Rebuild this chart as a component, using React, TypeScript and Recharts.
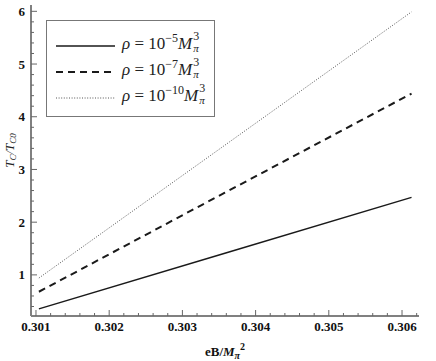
import React from "react";
import { LineChart, Line, XAxis, YAxis, Legend } from "recharts";

// ---- data ----
const eB = [0.30104, 0.30358, 0.30613];
const rho5 = [0.355, 1.41, 2.47];
const rho7 = [0.68, 2.56, 4.44];
const rho10 = [0.94, 3.46, 5.99];

const xMajorTicks = [0.301, 0.302, 0.303, 0.304, 0.305, 0.306];
const yMajorTicks = [1, 2, 3, 4, 5, 6];
const xDomain: [number, number] = [0.300932, 0.306232];
const yDomain: [number, number] = [0.22, 6.12];

const seriesNames = ["-5", "-7", "-10"];

// minor ticks: 4 between each major tick
const xTicks: number[] = [];
for (let k = 0; k <= 26; k++) xTicks.push(Math.round((0.301 + k * 0.0002) * 1e5) / 1e5);
const yTicks: number[] = [];
for (let k = 2; k <= 30; k++) yTicks.push(Math.round(k * 0.2 * 10) / 10);

const data = eB.map((x, i) => ({ x, a: rho5[i], b: rho7[i], c: rho10[i] }));

const isMajorX = (v: number) => xMajorTicks.some((m) => Math.abs(m - v) < 1e-7);
const isMajorY = (v: number) => yMajorTicks.some((m) => Math.abs(m - v) < 1e-7);

const TICK = "#666";
const FRAME = "#808080";
const SERIF = "'Liberation Serif', 'Times New Roman', serif";

const BottomTick = (p: any) => {
  const { x, y, payload } = p;
  const major = isMajorX(payload.value);
  return (
    <g>
      <line x1={x} x2={x} y1={y} y2={y - (major ? 6 : 3)} stroke={TICK} strokeWidth={1} />
      {major && (
        <text x={x} y={y + 15} textAnchor="middle" fontFamily={SERIF} fontWeight="bold" fontSize={13} fill="#111">
          {payload.value.toFixed(3)}
        </text>
      )}
    </g>
  );
};
const TopTick = (p: any) => {
  const { x, y, payload } = p;
  const major = isMajorX(payload.value);
  return <line x1={x} x2={x} y1={y} y2={y + (major ? 6 : 3)} stroke={TICK} strokeWidth={1} />;
};
const LeftTick = (p: any) => {
  const { x, y, payload } = p;
  const major = isMajorY(payload.value);
  return (
    <g>
      <line x1={x} x2={x + (major ? 6 : 3)} y1={y} y2={y} stroke={TICK} strokeWidth={1} />
      {major && (
        <text x={x - 6} y={y + 4.5} textAnchor="end" fontFamily={SERIF} fontWeight="bold" fontSize={13} fill="#111">
          {payload.value}
        </text>
      )}
    </g>
  );
};
const RightTick = (p: any) => {
  const { x, y, payload } = p;
  const major = isMajorY(payload.value);
  return <line x1={x} x2={x - (major ? 6 : 3)} y1={y} y2={y} stroke={TICK} strokeWidth={1} />;
};

const lineStyles = [
  { dash: undefined as string | undefined, width: 1.5, color: "#1a1a1a" },
  { dash: "7 5", width: 2, color: "#1a1a1a" },
  { dash: "1 1.6", width: 1, color: "#555" },
];

const RhoLabel = ({ exp }: { exp: string }) => (
  <span style={{ fontFamily: SERIF, fontSize: 17, color: "#222", whiteSpace: "nowrap" }}>
    <i>ρ</i> = 10
    <span style={{ fontSize: 12, position: "relative", top: -7 }}>−{exp.replace("-", "")}</span>
    <i>M</i>
    <span style={{ display: "inline-block", position: "relative", width: 9, height: 10, fontSize: 12, lineHeight: 1 }}>
      <span style={{ position: "absolute", left: 1, top: -9, lineHeight: 1 }}>3</span>
      <span style={{ position: "absolute", left: 1, top: 4, fontStyle: "italic", fontSize: 11, lineHeight: 1 }}>π</span>
    </span>
  </span>
);

const LegendBox = () => (
  <div
    style={{
      position: "relative",
      width: 169,
      height: 97,
      border: "1px solid #777",
      boxSizing: "border-box",
      background: "#fff",
    }}
  >
    {seriesNames.map((n, i) => (
      <div key={n} style={{ position: "absolute", left: 0, top: 15 + i * 26, height: 20, width: 169 }}>
        <svg width={70} height={20} style={{ position: "absolute", left: 0, top: 0 }}>
          <line
            x1={9}
            x2={68}
            y1={10}
            y2={10}
            stroke={lineStyles[i].color}
            strokeWidth={lineStyles[i].width}
            strokeDasharray={lineStyles[i].dash}
          />
        </svg>
        <div style={{ position: "absolute", left: 75, top: -2 }}>
          <RhoLabel exp={n} />
        </div>
      </div>
    ))}
  </div>
);

const XTitle = (p: any) => {
  const vb = p.viewBox;
  const cx = vb.x + vb.width / 2;
  return (
    <text x={cx} y={vb.y + 40} textAnchor="middle" fontFamily={SERIF} fontWeight="bold" fontSize={13} fill="#111">
      eB/<tspan fontStyle="italic">M</tspan>
      <tspan fontSize={10} dy={3} fontStyle="italic">π</tspan>
      <tspan fontSize={10} dy={-9}>2</tspan>
    </text>
  );
};

const YTitle = (p: any) => {
  const vb = p.viewBox;
  return (
    <text
      transform={`translate(${vb.x + 14},${vb.y + vb.height / 2 - 10}) rotate(-90)`}
      textAnchor="middle"
      fontFamily={SERIF}
      fontStyle="italic"
      fontSize={13}
      fill="#222"
    >
      T<tspan fontSize={9} dy={2}>C</tspan>
      <tspan dy={-2}>/T</tspan>
      <tspan fontSize={9} dy={2}>C0</tspan>
    </text>
  );
};

export default function App() {
  return (
    <div style={{ position: "absolute", left: 0, top: 0, background: "#fff" }}>
      <LineChart width={436} height={361} data={data} margin={{ top: 5, right: 17, bottom: 0, left: 0 }}>
        <XAxis
          xAxisId="b"
          dataKey="x"
          type="number"
          domain={xDomain}
          allowDataOverflow
          ticks={xTicks}
          interval={0}
          height={45}
          tickSize={0}
          tickMargin={0}
          tickLine={false}
          tick={<BottomTick />}
          axisLine={{ stroke: FRAME, strokeWidth: 2 }}
          label={{ content: <XTitle /> } as any}
        />
        <XAxis
          xAxisId="t"
          orientation="top"
          type="number"
          domain={xDomain}
          allowDataOverflow
          ticks={xTicks}
          interval={0}
          height={0}
          tickSize={0}
          tickMargin={0}
          tickLine={false}
          tick={<TopTick />}
          axisLine={{ stroke: FRAME, strokeWidth: 1.5 }}
        />
        <YAxis
          yAxisId="l"
          type="number"
          domain={yDomain}
          allowDataOverflow
          ticks={yTicks}
          interval={0}
          width={31}
          tickSize={0}
          tickMargin={0}
          tickLine={false}
          tick={<LeftTick />}
          axisLine={{ stroke: FRAME, strokeWidth: 2 }}
          label={{ content: <YTitle /> } as any}
        />
        <YAxis
          yAxisId="r"
          orientation="right"
          type="number"
          domain={yDomain}
          allowDataOverflow
          ticks={yTicks}
          interval={0}
          width={0}
          tickSize={0}
          tickMargin={0}
          tickLine={false}
          tick={<RightTick />}
          axisLine={{ stroke: FRAME, strokeWidth: 1.5 }}
        />
        <Line
          xAxisId="b"
          yAxisId="l"
          dataKey="a"
          stroke={lineStyles[0].color}
          strokeWidth={lineStyles[0].width}
          dot={false}
          isAnimationActive={false}
          type="linear"
        />
        <Line
          xAxisId="b"
          yAxisId="l"
          dataKey="b"
          stroke={lineStyles[1].color}
          strokeWidth={lineStyles[1].width}
          strokeDasharray={lineStyles[1].dash}
          dot={false}
          isAnimationActive={false}
          type="linear"
        />
        <Line
          xAxisId="b"
          yAxisId="l"
          dataKey="c"
          stroke={lineStyles[2].color}
          strokeWidth={lineStyles[2].width}
          strokeDasharray={lineStyles[2].dash}
          dot={false}
          isAnimationActive={false}
          type="linear"
        />
        <Legend
          layout="vertical"
          align="center"
          verticalAlign="middle"
          content={<LegendBox />}
          wrapperStyle={{ left: 46, top: 20, width: 169, height: 97 }}
        />
      </LineChart>
    </div>
  );
}
